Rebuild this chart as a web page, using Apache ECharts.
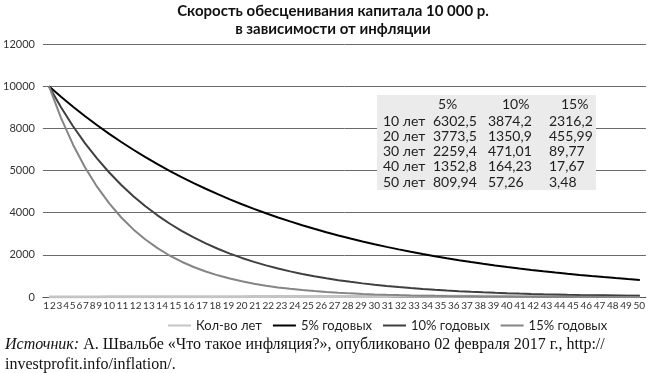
<!DOCTYPE html>
<html><head><meta charset="utf-8">
<script src="https://cdn.jsdelivr.net/npm/echarts@6/dist/echarts.min.js"></script>
<style>html,body{margin:0;padding:0;background:#fff}#c{width:648px;height:373px}</style>
</head><body><div id="c"></div>
<script>
const years = [1,2,3,4,5,6,7,8,9,10,11,12,13,14,15,16,17,18,19,20,21,22,23,24,25,26,27,28,29,30,31,32,33,34,35,36,37,38,39,40,41,42,43,44,45,46,47,48,49,50];
const yearCount = [1,2,3,4,5,6,7,8,9,10,11,12,13,14,15,16,17,18,19,20,21,22,23,24,25,26,27,28,29,30,31,32,33,34,35,36,37,38,39,40,41,42,43,44,45,46,47,48,49,50];
const rate5 = [10000,9500,9025,8573.8,8145.1,7737.8,7350.9,6983.4,6634.2,6302.5,5987.4,5688.0,5403.6,5133.4,4876.8,4632.9,4401.3,4181.2,3972.1,3773.5,3584.9,3405.6,3235.3,3073.6,2919.9,2773.9,2635.2,2503.4,2378.3,2259.4,2146.4,2039.1,1937.1,1840.3,1748.3,1660.8,1577.8,1498.9,1424.0,1352.8,1285.1,1220.9,1159.8,1101.8,1046.7,994.4,944.7,897.5,852.6,809.94];
const rate10 = [10000,9000,8100,7290,6561,5904.9,5314.4,4783.0,4304.7,3874.2,3486.8,3138.1,2824.3,2541.9,2287.7,2058.9,1853.0,1667.7,1501.0,1350.9,1215.8,1094.2,984.8,886.3,797.7,717.9,646.1,581.5,523.4,471.01,423.9,381.5,343.4,309.0,278.1,250.3,225.3,202.8,182.5,164.23,147.8,133.0,119.7,107.8,97.0,87.3,78.6,70.7,63.6,57.26];
const rate15 = [10000,8500,7225,6141.3,5220.1,4437.1,3771.5,3205.8,2724.9,2316.2,1968.7,1673.4,1422.4,1209.1,1027.7,873.5,742.5,631.1,536.5,455.99,387.6,329.5,280.0,238.0,202.3,172.0,146.2,124.3,105.6,89.77,76.3,64.9,55.1,46.9,39.8,33.9,28.8,24.5,20.8,17.67,15.0,12.8,10.9,9.2,7.8,6.7,5.7,4.8,4.1,3.48];
const seriesNames = ['Кол-во лет','5% годовых','10% годовых','15% годовых'];
const yTickLabels = ['0','2000','4000','5000','8000','10000','12000'];
const xTickLabels = ['1','2','3','4','5','6','7','8','9','10','11','12','13','14','15','16','17','18','19','20','21','22','23','24','25','26','27','28','29','30','31','32','33','34','35','36','37','38','39','40','41','42','43','44','45','46','47','48','49','50'];
const titleLines = ['Скорость обесценивания капитала 10 000 р.','в зависимости от инфляции'];
const tableHeaders = ['5%','10%','15%'];
const tableRows = ['10 лет','20 лет','30 лет','40 лет','50 лет'];
const table5 = ['6302,5','3773,5','2259,4','1352,8','809,94'];
const table10 = ['3874,2','1350,9','471,01','164,23','57,26'];
const table15 = ['2316,2','455,99','89,77','17,67','3,48'];
const sourceItalic = 'Источник:';
const sourceLine1 = ' А. Швальбе «Что такое инфляция?», опубликовано 02 февраля 2017 г., http://';
const sourceLine2 = 'investprofit.info/inflation/.';

// label positions as a typeset string: centre of each label by cumulative character count
let cum = 0; const labelPos = []; const labelMap = {};
xTickLabels.forEach(l => { const p = cum + l.length / 2; labelPos.push(p); labelMap[p.toFixed(2)] = l; cum += l.length; });
const labelMax = cum;

const SANS = 'Lato, "Noto Sans", sans-serif';
const chart = echarts.init(document.getElementById('c'), null, {renderer: 'canvas'});

const tableEls = [{type: 'rect', shape: {x: 377, y: 95, width: 219, height: 95}, style: {fill: '#ebebeb'}, z: 10}];
const colX = [433, 488, 549];
const headX = [438, 502, 561];
const rowY0 = 121, rowDy = 15.3;
const ts = (x, y, t) => ({type: 'text', x: x, y: y, z: 11, style: {text: t, fill: '#1e1e1e', font: '14px ' + SANS, textVerticalAlign: 'middle'}});
tableHeaders.forEach((h, i) => tableEls.push(ts(headX[i], 104, h)));
tableRows.forEach((r, j) => {
  const y = rowY0 + j * rowDy;
  tableEls.push(ts(383, y, r));
  tableEls.push(ts(colX[0], y, table5[j]));
  tableEls.push(ts(colX[1], y, table10[j]));
  tableEls.push(ts(colX[2], y, table15[j]));
});

chart.setOption({
  animation: false,
  backgroundColor: '#fff',
  grid: {left: 38, right: 2, top: 44, bottom: 76, containLabel: false},
  legend: {
    left: 163, top: 314, itemWidth: 23, itemHeight: 2, itemGap: 11, icon: 'rect',
    data: seriesNames,
    textStyle: {fontFamily: SANS, fontSize: 13, color: '#1e1e1e', padding: [0, 0, 0, 0]}
  },
  xAxis: [{
    type: 'category', data: years, boundaryGap: true,
    axisLine: {show: true, lineStyle: {color: '#555', width: 1}},
    axisTick: {show: false}, axisLabel: {show: false}, splitLine: {show: false}
  }, {
    type: 'value', min: 0, max: labelMax, position: 'bottom',
    axisLine: {show: false}, axisTick: {show: false}, splitLine: {show: false},
    axisLabel: {
      customValues: labelPos, margin: 4, fontFamily: SANS, fontSize: 10, color: '#333',
      formatter: v => labelMap[Number(v).toFixed(2)] || ''
    }
  }],
  yAxis: {
    type: 'value', min: 0, max: 12000, interval: 2000,
    axisLine: {show: false}, axisTick: {show: false},
    splitLine: {show: true, lineStyle: {color: '#6a6a6a', width: 1}},
    axisLabel: {margin: 8, fontFamily: SANS, fontSize: 11, color: '#333', formatter: v => yTickLabels[Math.round(v / 2000)]}
  },
  series: [
    {name: seriesNames[0], type: 'line', data: yearCount, symbol: 'none', lineStyle: {color: '#c4c4c4', width: 3}, itemStyle: {color: '#c4c4c4'}},
    {name: seriesNames[1], type: 'line', data: rate5, symbol: 'none', lineStyle: {color: '#000', width: 2}, itemStyle: {color: '#000'}},
    {name: seriesNames[2], type: 'line', data: rate10, symbol: 'none', lineStyle: {color: '#3f3f3f', width: 2}, itemStyle: {color: '#3f3f3f'}},
    {name: seriesNames[3], type: 'line', data: rate15, symbol: 'none', lineStyle: {color: '#858585', width: 2}, itemStyle: {color: '#858585'}}
  ],
  graphic: [
    {type: 'text', x: 333, y: 11, style: {text: titleLines[0], fill: '#111', font: 'bold 15px ' + SANS, textAlign: 'center', textVerticalAlign: 'middle'}},
    {type: 'text', x: 333, y: 29, style: {text: titleLines[1], fill: '#111', font: 'bold 15px ' + SANS, textAlign: 'center', textVerticalAlign: 'middle'}},
    {type: 'group', children: tableEls},
    {type: 'text', x: 5, y: 345, style: {
      text: '{i|' + sourceItalic + '}' + sourceLine1,
      font: '16px "Liberation Serif", serif', fill: '#111', textVerticalAlign: 'middle',
      rich: {i: {fontStyle: 'italic', fontFamily: '"Liberation Serif", serif', fontSize: 16, fill: '#111'}}
    }},
    {type: 'text', x: 5, y: 365, style: {text: sourceLine2, font: '16px "Liberation Serif", serif', fill: '#111', textVerticalAlign: 'middle'}}
  ]
});
</script></body></html>
